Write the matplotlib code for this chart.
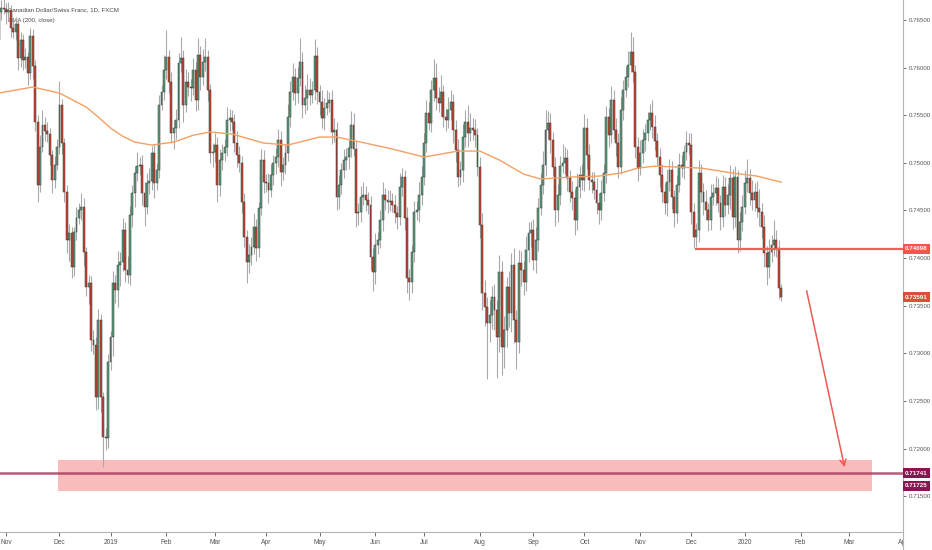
import matplotlib
matplotlib.use('Agg')
import matplotlib.pyplot as plt
from matplotlib.lines import Line2D
from matplotlib.patches import Rectangle
import numpy as np
import pandas as pd

plt.rcParams['font.family'] = ['Liberation Sans', 'DejaVu Sans']

# daily CAD/CHF closes from 2018-10-29 (business days), open = previous close
first_open = 0.7629
close = [
    0.7658, 0.7663, 0.7662, 0.7658, 0.7661, 0.7642, 0.7637, 0.7646, 0.7610, 0.7629,
    0.7608, 0.7611, 0.7594, 0.7633, 0.7602, 0.7543, 0.7477, 0.7517, 0.7540, 0.7533,
    0.7530, 0.7508, 0.7482, 0.7498, 0.7517, 0.7561, 0.7521, 0.7469, 0.7419, 0.7426,
    0.7391, 0.7427, 0.7442, 0.7450, 0.7454, 0.7406, 0.7370, 0.7374, 0.7314, 0.7309,
    0.7254, 0.7335, 0.7254, 0.7212, 0.7211, 0.7291, 0.7317, 0.7374, 0.7367, 0.7393,
    0.7396, 0.7430, 0.7387, 0.7382, 0.7445, 0.7468, 0.7489, 0.7497, 0.7498, 0.7468,
    0.7454, 0.7479, 0.7481, 0.7510, 0.7479, 0.7492, 0.7561, 0.7574, 0.7598, 0.7611,
    0.7585, 0.7531, 0.7537, 0.7545, 0.7605, 0.7610, 0.7561, 0.7585, 0.7580, 0.7579,
    0.7598, 0.7566, 0.7613, 0.7590, 0.7606, 0.7611, 0.7577, 0.7510, 0.7511, 0.7519,
    0.7477, 0.7503, 0.7510, 0.7517, 0.7545, 0.7547, 0.7543, 0.7521, 0.7508, 0.7500,
    0.7459, 0.7422, 0.7396, 0.7403, 0.7412, 0.7433, 0.7411, 0.7453, 0.7503, 0.7480,
    0.7479, 0.7472, 0.7487, 0.7500, 0.7506, 0.7524, 0.7490, 0.7498, 0.7510, 0.7548,
    0.7574, 0.7590, 0.7573, 0.7589, 0.7606, 0.7561, 0.7568, 0.7577, 0.7571, 0.7576,
    0.7612, 0.7574, 0.7564, 0.7547, 0.7558, 0.7563, 0.7566, 0.7532, 0.7535, 0.7464,
    0.7477, 0.7492, 0.7503, 0.7506, 0.7516, 0.7540, 0.7515, 0.7447, 0.7448, 0.7464,
    0.7466, 0.7461, 0.7456, 0.7401, 0.7385, 0.7414, 0.7419, 0.7440, 0.7466, 0.7461,
    0.7459, 0.7460, 0.7456, 0.7447, 0.7443, 0.7475, 0.7485, 0.7442, 0.7379, 0.7375,
    0.7406, 0.7448, 0.7450, 0.7466, 0.7485, 0.7521, 0.7552, 0.7542, 0.7577, 0.7589,
    0.7568, 0.7563, 0.7574, 0.7548, 0.7545, 0.7555, 0.7564, 0.7535, 0.7513, 0.7485,
    0.7492, 0.7527, 0.7543, 0.7531, 0.7537, 0.7534, 0.7529, 0.7496, 0.7435, 0.7363,
    0.7349, 0.7332, 0.7340, 0.7359, 0.7346, 0.7317, 0.7385, 0.7307, 0.7325, 0.7370,
    0.7342, 0.7393, 0.7335, 0.7312, 0.7395, 0.7387, 0.7375, 0.7408, 0.7426, 0.7429,
    0.7398, 0.7419, 0.7453, 0.7477, 0.7498, 0.7535, 0.7542, 0.7524, 0.7496, 0.7450,
    0.7466, 0.7497, 0.7500, 0.7505, 0.7484, 0.7469, 0.7463, 0.7440, 0.7475, 0.7487,
    0.7482, 0.7537, 0.7508, 0.7482, 0.7480, 0.7472, 0.7458, 0.7450, 0.7468, 0.7489,
    0.7548, 0.7529, 0.7566, 0.7535, 0.7521, 0.7496, 0.7555, 0.7577, 0.7590, 0.7603,
    0.7616, 0.7595, 0.7517, 0.7495, 0.7510, 0.7524, 0.7531, 0.7545, 0.7552, 0.7538,
    0.7523, 0.7506, 0.7487, 0.7469, 0.7458, 0.7480, 0.7492, 0.7464, 0.7447, 0.7477,
    0.7498, 0.7495, 0.7511, 0.7521, 0.7519, 0.7448, 0.7422, 0.7429, 0.7489, 0.7469,
    0.7459, 0.7450, 0.7440, 0.7464, 0.7468, 0.7474, 0.7458, 0.7443, 0.7475, 0.7456,
    0.7466, 0.7484, 0.7443, 0.7485, 0.7419, 0.7438, 0.7454, 0.7479, 0.7484, 0.7468,
    0.7461, 0.7469, 0.7453, 0.7448, 0.7433, 0.7405, 0.7391, 0.7406, 0.7414, 0.7419,
    0.7411, 0.7369, 0.73591,
]

# wick lengths in pips above / below the body
upper_wick = [
    6, 8, 10, 6, 8, 5, 9, 7, 5, 8,
    6, 10, 5, 9, 8, 6, 7, 12, 15, 8,
    10, 7, 6, 9, 8, 25, 6, 5, 8, 10,
    7, 6, 12, 8, 14, 9, 6, 8, 7, 10,
    8, 12, 6, 5, 10, 8, 6, 12, 8, 14,
    10, 12, 8, 15, 10, 9, 8, 14, 8, 10,
    12, 10, 14, 8, 10, 8, 10, 8, 15, 28,
    8, 10, 8, 12, 10, 22, 9, 14, 10, 8,
    12, 8, 18, 10, 14, 20, 8, 6, 10, 12,
    8, 12, 10, 8, 14, 10, 9, 8, 12, 10,
    7, 9, 8, 12, 10, 14, 8, 6, 12, 10,
    8, 10, 12, 8, 10, 12, 9, 8, 10, 14,
    12, 15, 10, 12, 25, 10, 14, 16, 12, 10,
    18, 10, 8, 12, 10, 14, 8, 10, 12, 8,
    10, 8, 12, 10, 8, 14, 12, 8, 10, 12,
    14, 10, 8, 9, 10, 12, 8, 10, 14, 8,
    10, 12, 8, 10, 8, 14, 10, 8, 12, 10,
    8, 12, 10, 14, 12, 10, 14, 12, 10, 20,
    16, 12, 18, 8, 10, 14, 12, 8, 10, 12,
    10, 14, 12, 18, 15, 10, 12, 8, 10, 12,
    14, 10, 16, 12, 14, 10, 18, 12, 14, 10,
    16, 12, 18, 10, 14, 12, 10, 15, 12, 10,
    12, 14, 10, 12, 14, 20, 12, 10, 8, 10,
    12, 10, 20, 12, 10, 8, 12, 10, 14, 10,
    12, 14, 10, 12, 8, 10, 12, 10, 14, 10,
    12, 10, 15, 10, 12, 10, 14, 10, 12, 14,
    21, 16, 8, 10, 14, 12, 10, 8, 10, 14,
    12, 8, 10, 12, 10, 14, 12, 10, 8, 10,
    12, 10, 8, 12, 10, 12, 10, 8, 14, 10,
    10, 12, 8, 14, 10, 12, 10, 8, 12, 10,
    12, 14, 10, 12, 8, 10, 12, 14, 20, 10,
    14, 10, 12, 20, 10, 12, 8, 14, 10, 21,
    10, 8, 4,
]
lower_wick = [
    10, 8, 6, 12, 8, 10, 6, 8, 12, 9,
    10, 8, 12, 6, 14, 10, 18, 8, 6, 10,
    8, 10, 14, 8, 6, 8, 12, 10, 14, 22,
    12, 10, 8, 6, 10, 14, 10, 18, 12, 10,
    14, 12, 16, 31, 12, 10, 8, 20, 14, 18,
    22, 10, 12, 8, 10, 12, 14, 8, 10, 12,
    20, 8, 12, 10, 16, 8, 8, 6, 8, 10,
    12, 10, 16, 12, 8, 10, 18, 8, 10, 14,
    8, 12, 10, 14, 8, 10, 12, 10, 14, 10,
    18, 12, 10, 8, 10, 12, 8, 10, 12, 10,
    12, 10, 22, 12, 10, 8, 14, 10, 8, 12,
    10, 14, 8, 10, 12, 10, 14, 8, 10, 8,
    10, 8, 12, 10, 8, 14, 10, 12, 10, 8,
    10, 12, 14, 10, 12, 8, 10, 12, 10, 14,
    12, 10, 8, 10, 12, 10, 8, 14, 12, 10,
    8, 12, 10, 14, 20, 12, 10, 8, 12, 10,
    12, 10, 8, 10, 12, 8, 10, 12, 16, 19,
    12, 10, 8, 12, 10, 8, 10, 8, 10, 12,
    12, 10, 14, 10, 12, 8, 10, 14, 12, 10,
    8, 12, 10, 14, 8, 10, 12, 10, 14, 18,
    20, 59, 20, 14, 22, 43, 16, 30, 22, 18,
    14, 20, 24, 28, 12, 16, 14, 10, 12, 14,
    10, 14, 12, 8, 10, 12, 10, 14, 10, 16,
    12, 10, 8, 12, 14, 10, 12, 16, 10, 12,
    10, 12, 14, 10, 12, 10, 12, 14, 10, 8,
    10, 12, 8, 10, 14, 12, 8, 10, 8, 10,
    8, 10, 12, 14, 8, 10, 12, 8, 10, 12,
    10, 8, 12, 10, 12, 14, 10, 12, 14, 10,
    8, 10, 12, 8, 10, 12, 11, 10, 12, 10,
    14, 10, 12, 10, 8, 12, 10, 14, 10, 12,
    10, 14, 12, 10, 14, 12, 10, 8, 10, 12,
    10, 12, 10, 14, 12, 14, 19, 12, 10, 12,
    10, 12, 4,
]

# EMA(200) read at bar positions
ema_pos = [0, 14, 25, 36, 41, 46, 51, 56, 63, 72, 80, 87, 96, 109, 119, 132, 139,
           149, 162, 175, 189, 198, 206, 216, 223, 235, 247, 256, 263, 270, 289,
           302, 312, 322]
ema_val = [0.75733, 0.75796, 0.75733, 0.75586, 0.75480, 0.75366, 0.75280, 0.75218,
           0.75187, 0.75218, 0.75290, 0.75324, 0.75303, 0.75208, 0.75187, 0.75271,
           0.75271, 0.75218, 0.75145, 0.75061, 0.75124, 0.75124, 0.75030, 0.74882,
           0.74830, 0.74851, 0.74861, 0.74893, 0.74945, 0.74966, 0.74945, 0.74893,
           0.74861, 0.74798]

tick_dates = ['2018-11-01', '2018-12-03', '2019-01-01', '2019-02-01', '2019-03-01',
              '2019-04-01', '2019-05-01', '2019-06-03', '2019-07-01', '2019-08-01',
              '2019-09-02', '2019-10-01', '2019-11-01', '2019-12-02', '2020-01-01',
              '2020-02-03', '2020-03-02', '2020-04-01']
tick_labels = ['Nov', 'Dec', '2019', 'Feb', 'Mar', 'Apr', 'May', 'Jun', 'Jul', 'Aug',
               'Sep', 'Oct', 'Nov', 'Dec', '2020', 'Feb', 'Mar', 'Apr']
price_ticks = [0.715, 0.720, 0.725, 0.730, 0.735, 0.740, 0.745, 0.750, 0.755, 0.760, 0.765]

resistance = 0.74098
last_price = 0.73591
support = 0.71741
support_low = 0.71725
zone_top, zone_bottom = 0.71880, 0.71555

UP = '#5a9f7e'
DOWN = '#c8452f'
EDGE = '#383838'
AX_X1 = 903 / 932
AX_Y0 = 18 / 550

dates = pd.bdate_range('2018-10-29', '2020-04-30')
pos = np.arange(len(close))
c = np.array(close)
o = np.r_[first_open, c[:-1]]
hi = np.maximum(o, c) + np.array(upper_wick) * 1e-4
lo = np.minimum(o, c) - np.array(lower_wick) * 1e-4

fig = plt.figure(figsize=(9.32, 5.5), dpi=100)
ax = fig.add_axes([0, AX_Y0, AX_X1, 1 - AX_Y0])

ax.text(4, 0.76605, 'Canadian Dollar/Swiss Franc, 1D, FXCM', fontsize=4.4,
        color='#4a4a4a', va='center', ha='left', zorder=1)
ax.text(4, 0.76490, 'EMA (200, close)', fontsize=4.4, color='#4a4a4a',
        va='center', ha='left', zorder=1)

# support zone and level
ax.add_patch(Rectangle((24.4, zone_bottom), 335, zone_top - zone_bottom,
                       facecolor='#f9bcbc', edgecolor='none', zorder=1))
ax.axhline(support, color='#a3345a', lw=1.8, alpha=0.8, zorder=2)

# candles
ax.vlines(pos, lo, hi, color='#a9a9a9', lw=0.8, zorder=3)
up = c >= o
body = np.maximum(np.abs(c - o), 0.00005)
ax.bar(pos[up], body[up], bottom=np.minimum(o, c)[up], width=0.78,
       color=UP, edgecolor=EDGE, linewidth=0.35, zorder=4)
ax.bar(pos[~up], body[~up], bottom=np.minimum(o, c)[~up], width=0.78,
       color=DOWN, edgecolor=EDGE, linewidth=0.35, zorder=4)

ax.plot(ema_pos, ema_val, color='#f4a062', lw=1.0, zorder=5)

# breakdown level and target arrow
ax.hlines(resistance, 286.6, 380, color='#f0605a', lw=1.6, zorder=5)
ax.annotate('', xy=(348.3, 0.71775), xytext=(332.2, 0.73686),
            arrowprops=dict(arrowstyle='->', color='#ef5a55', lw=1.1,
                            mutation_scale=11), zorder=6)

ax.set_xlim(0.53, 372.1)
ax.set_ylim(0.71124, 0.7671)

tick_pos = dates.get_indexer(pd.to_datetime(tick_dates))
ax.set_xticks(tick_pos)
ax.set_xticklabels(tick_labels)
ax.yaxis.tick_right()
ax.set_yticks(price_ticks)
ax.set_yticklabels([f'{p:.5f}' for p in price_ticks])
ax.tick_params(axis='x', labelsize=4.8, colors='#555555', length=3, width=0.6, pad=2)
ax.tick_params(axis='y', labelsize=4.4, colors='#555555', length=2.5, width=0.6, pad=1.5)
for side in ('top', 'left'):
    ax.spines[side].set_visible(False)
for side in ('right', 'bottom'):
    ax.spines[side].set_color('#b4b4b4')
    ax.spines[side].set_linewidth(0.8)

# price scale panel hides the last date label, its border runs to the bottom
fig.add_artist(Rectangle((AX_X1 + 0.0005, 0), 1 - AX_X1, AX_Y0,
                         transform=fig.transFigure, facecolor='white',
                         edgecolor='none', zorder=20))
fig.add_artist(Line2D([AX_X1, AX_X1], [0, AX_Y0], transform=fig.transFigure,
                      color='#b4b4b4', lw=0.8, zorder=21))


def price_tag(value, face, dy=0):
    ax.annotate(f'{value:.5f}', xy=(1.0, value), xycoords=('axes fraction', 'data'),
                xytext=(1.6, dy), textcoords='offset points', ha='left', va='center',
                fontsize=4.5, color='white', fontweight='bold', zorder=10,
                annotation_clip=False,
                bbox=dict(boxstyle='square,pad=0.4', fc=face, ec='none'))


price_tag(resistance, '#f0564c')
price_tag(last_price, '#db4f3a')
price_tag(support, '#8b1550')
price_tag(support_low, '#8b1550', dy=-8)

fig.savefig('out.png', dpi=100)
